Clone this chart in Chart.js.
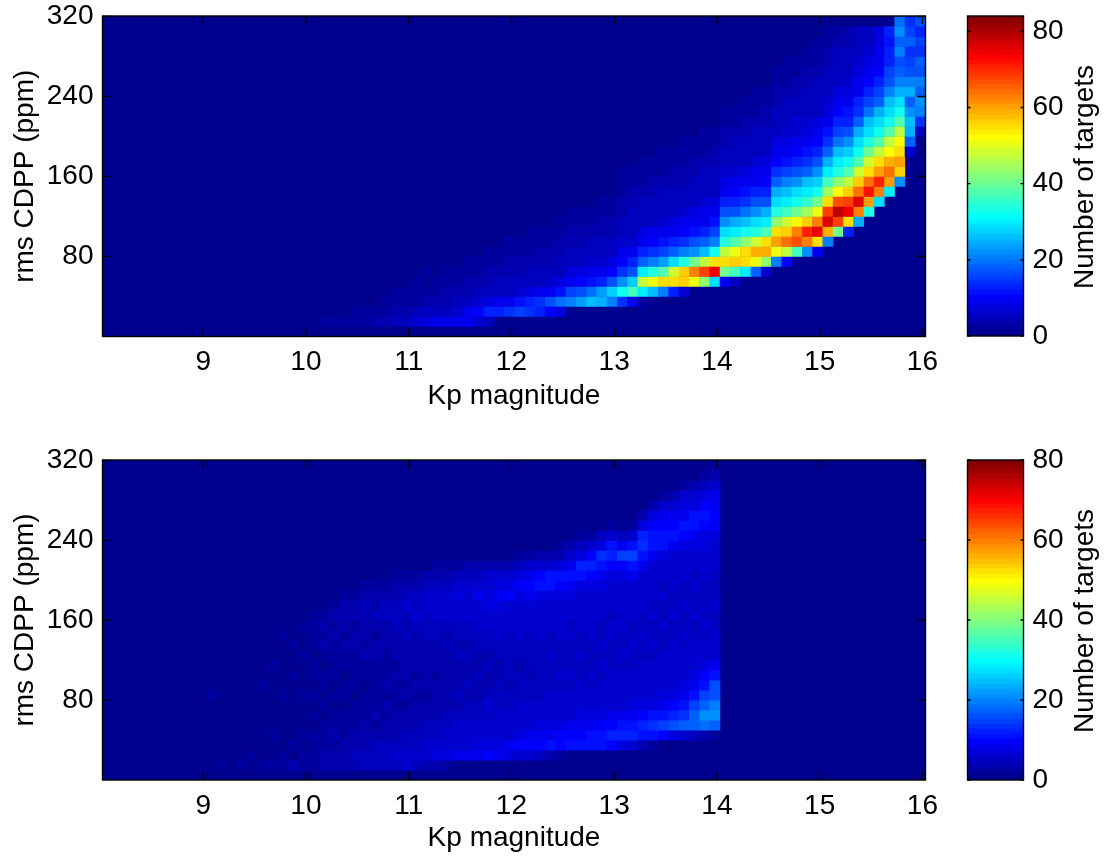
<!DOCTYPE html>
<html>
<head>
<meta charset="utf-8">
<script src="https://cdn.jsdelivr.net/npm/chart.js@4"></script>
<style>
  html, body { margin: 0; padding: 0; background: #fff; }
  canvas { position: absolute; display: block; }
</style>
</head>
<body>
<canvas id="topHeat" width="960" height="420" style="left:0;top:0;width:960px;height:420px"></canvas>
<canvas id="topBar" width="168" height="420" style="left:940px;top:0;width:168px;height:420px"></canvas>
<canvas id="bottomHeat" width="960" height="418" style="left:0;top:440px;width:960px;height:418px"></canvas>
<canvas id="bottomBar" width="168" height="418" style="left:940px;top:440px;width:168px;height:418px"></canvas>
<script>
// Kp ticks / ppm ticks / colorbar ticks
var kpTicks = [9, 10, 11, 12, 13, 14, 15, 16];
var ppmTicks = [80, 160, 240, 320];
var countTicks = [0, 20, 40, 60, 80];
var kpBinStart = 8.03;
var kpBinWidth = 0.1;
var ppmBinWidth = 10;
var topMaxCount = 84;
var bottomMaxCount = 80;

// one entry per Kp bin: first ppm bin, then the counts going up.
var topCols = [
  [],[],[],[],[],[],[],[],[],[],
  [1,1,0,1,0,0,1],[1,0,1,0,1,0,0,1],[1,1,0,1,1,0,1],[1,1,1,0,1,1],[1,1,0,1,1,0,1],
  [1,1,1,1,0,1,1],[1,1,1,0,1,1,0,1],[1,1,1,1,1,0,1],[1,1,1,1,0,1,1,0,1],[1,1,1,1,1,1,0,1],
  [1,1,1,1,1,1,1,0,1],[1,2,1,1,1,1,0,1,1],[1,2,1,1,1,1,1,0,1],[1,2,1,1,1,1,1,1,0,1],[1,2,2,1,1,1,1,0,1,1],
  [1,2,2,1,1,1,1,1,1,0,1],[1,3,2,1,1,1,1,1,0,1],[1,3,2,2,1,1,1,1,1,0,1],[1,4,3,2,2,1,1,1,1,1,0,1],[1,5,3,2,2,1,1,1,1,0,1],
  [1,6,4,2,2,2,1,1,1,1,1,0,1],[1,7,4,3,2,1,2,1,1,1,0,1,1],[1,8,5,3,2,2,1,1,1,1,1,1,0,1],[1,8,5,3,3,2,2,1,1,1,1,0,1,1],[1,9,6,4,3,2,2,1,1,1,1,1,1,0,1],
  [1,8,8,5,3,3,2,2,1,1,1,1,1,1,0,1],[1,6,10,6,4,3,2,2,1,1,1,1,1,0,1,1],[1,4,12,7,4,3,3,2,2,1,1,1,1,1,1,0,1],[2,13,8,5,4,3,2,2,1,1,1,1,1,0,1,1],[2,14,9,5,4,3,3,2,2,1,1,1,1,1,1,0,1],
  [2,15,11,6,4,3,3,2,2,1,1,1,1,1,0,1],[2,14,12,7,5,4,3,2,2,2,1,1,1,1,1,1,0,1],[2,13,14,8,5,4,3,3,2,2,1,1,1,1,1,0,1,1],[2,10,16,9,6,4,3,3,2,2,1,1,1,1,1,1,1,0,1],[2,7,19,11,7,5,4,3,3,2,2,1,1,1,1,1,0,1,1],
  [3,20,15,9,7,5,4,3,3,2,2,1,1,1,1,1,1,0,1,1],[3,23,17,10,7,5,4,3,3,2,2,1,1,1,1,1,1,0,1],[3,25,19,11,8,6,4,4,3,2,2,1,1,1,1,1,1,1,0,1],[3,24,23,13,9,6,5,4,3,3,2,2,1,1,1,1,1,0,1,1],[3,20,27,16,10,7,5,4,3,3,2,2,1,1,1,1,1,1,0,1],
  [3,14,32,22,14,10,8,6,5,4,3,3,2,2,2,1,1,1,1,1,0,1],[3,8,36,27,16,12,8,6,5,5,4,3,3,2,2,1,1,1,1,1,0,1],[3,2,30,46,30,18,13,9,7,5,5,4,3,2,2,2,1,1,1,1,1,0,1],[4,26,50,34,20,14,10,8,5,5,4,3,3,2,2,1,1,1,1,1,1,0,1],[4,20,54,38,23,15,11,8,6,5,4,4,3,2,2,2,1,1,1,1,1,1],
  [4,12,54,48,28,18,12,9,7,5,5,4,3,3,2,2,1,1,1,1,1,1,0,1],[4,6,56,56,33,20,14,10,8,6,5,4,3,3,2,2,2,1,1,1,1,1,1],[5,50,62,40,22,16,11,8,7,5,5,4,3,3,2,2,1,1,1,1,1,1],[5,42,68,46,26,18,13,9,8,6,5,4,4,3,2,2,2,1,1,1,1,1],[5,28,74,54,32,20,15,11,8,7,5,5,4,3,3,2,2,1,1,1,1,1],
  [5,8,40,54,46,34,28,22,16,12,9,7,6,5,4,3,3,2,2,1,1,1,1,1],[5,4,36,56,50,38,30,24,17,13,10,8,6,5,4,4,3,2,2,1,1,1,1,1,1],[6,30,54,54,42,32,26,19,14,11,8,7,5,5,4,3,3,2,2,1,1,1,1,1],[6,18,50,58,48,34,28,21,16,12,9,8,6,5,4,4,3,2,2,2,1,1,1,1],[6,6,42,58,54,38,30,24,17,13,10,8,7,5,5,4,3,3,2,2,1,1,1,1],
  [7,20,50,60,54,42,33,28,24,18,14,10,8,7,5,5,4,3,3,2,2,1,1,1],[7,10,46,64,56,48,36,30,26,20,15,11,9,7,6,5,4,4,3,2,2,2,1,1],[8,36,66,62,52,40,32,28,22,16,12,10,8,6,6,5,4,3,3,2,2,1,1,1],[8,22,62,70,56,44,35,30,25,18,14,11,9,7,6,5,5,4,3,3,2,2,1,1],[8,8,54,74,62,50,40,32,27,21,16,12,10,8,7,5,5,4,4,3,2,2,2,1],
  [9,20,58,76,68,54,44,36,30,24,18,14,11,9,7,6,5,5,4,3,3,2,2],[10,40,68,78,66,52,42,34,30,26,19,15,12,10,8,7,5,5,4,4,3,2],[10,12,54,74,68,56,46,38,32,27,22,16,13,11,9,7,6,5,5,4,3,3],[11,24,62,76,64,56,48,38,32,28,24,18,14,12,9,8,7,6,5,4,4],[12,34,60,72,64,54,48,40,33,28,25,19,15,12,10,8,7,6,5,5],
  [13,28,62,70,60,54,46,38,32,28,24,18,15,12,10,9,8,7,7],[14,30,60,64,58,52,46,38,32,28,26,20,17,15,13,12,11,12],[15,22,56,60,54,52,46,38,32,28,24,20,18,17,20,18,22,19],[18,6,18,24,26,22,18,24,20,16,15,14,18,15,14],[20,4,14,20,22,18,20,16,18,14,15,12,16]
];

var bottomCols = [
  [],[],[],[],[],[],[],[],[],[2,1,0,0,1,0,0,1],
  [1,1,0,1,0,1,0,0,2],[1,2,1,0,0,1,0,1],[1,1,0,1,1,0,1,0,1,0,0,1],[1,2,1,0,1,0,1,1,0,1],[1,1,2,1,0,1,0,1,1,0,1,0,1],
  [1,2,1,1,1,0,1,1,0,2,1,0,1,1],[1,2,1,1,2,1,0,1,1,1,0,2,1,0,1,1],[1,2,2,1,1,0,1,1,2,1,1,0,1,1,2],[1,3,1,2,1,1,1,0,1,1,2,1,1,2,0,1,1],[1,2,2,1,2,1,1,1,2,0,1,1,2,1,1,2,1],
  [1,2,2,2,2,1,2,1,2,1,2,2,1,2,2,2,2,1],[1,3,3,2,2,2,1,2,1,2,2,1,2,3,2,3,2,1],[1,3,3,2,3,2,2,1,2,1,2,2,2,2,3,2,3,2,1,0,1],[1,3,3,3,2,2,2,1,2,2,1,2,2,3,2,3,3,3,2],[1,3,4,3,3,2,2,2,1,2,2,2,2,3,3,2,3,3,2,1],
  [1,4,4,3,3,3,2,2,2,1,2,2,3,2,3,3,3,4,3,2],[1,4,4,4,3,2,3,2,2,2,2,2,3,3,2,3,4,3,3,2],[1,4,4,4,3,3,2,3,2,3,2,2,2,3,3,3,4,4,3,2,1],[1,4,5,4,3,3,3,2,2,2,3,2,3,3,3,4,4,4,3,3,2],[1,5,5,4,4,3,3,2,3,2,3,3,3,3,4,3,4,5,4,3,2],
  [1,4,6,4,4,3,3,3,2,3,2,3,3,3,3,4,5,4,4,3,2],[1,3,6,5,4,4,3,3,2,3,3,3,3,3,4,4,4,5,5,4,3,1],[1,3,7,5,4,4,3,3,3,3,2,3,3,3,4,4,5,6,5,4,3,2],[1,2,7,5,5,4,4,3,3,3,3,3,3,4,3,4,5,5,6,4,3,2],[2,8,6,5,5,4,3,4,3,3,3,4,3,4,4,5,5,7,5,4,2,1],
  [2,8,6,6,5,4,4,3,4,3,3,4,3,4,4,5,6,6,6,4,3,1],[2,8,7,5,5,4,4,3,3,4,3,3,4,4,5,5,6,8,6,4,3,1],[2,9,7,6,5,4,5,4,3,3,4,3,4,4,5,6,7,7,6,5,3,1],[2,8,7,6,6,5,4,4,4,3,3,4,4,5,5,6,7,8,7,5,3,1],[2,7,8,6,5,5,4,4,3,4,4,4,4,4,5,6,6,9,7,5,3,1],
  [2,6,9,7,6,5,5,4,4,4,3,4,4,5,5,5,6,7,9,7,4,2,1],[2,5,9,8,6,5,5,4,4,3,4,4,4,4,5,5,6,8,9,8,5,2,1],[2,4,9,8,7,6,5,4,4,4,4,4,4,5,5,6,6,7,10,9,5,3,1],[2,3,10,8,7,6,5,5,4,4,4,5,4,4,5,5,6,7,10,11,6,3,1],[2,2,9,9,7,6,5,5,4,5,4,4,4,5,5,5,6,7,9,11,7,3,2,1],
  [3,10,9,8,6,6,5,4,5,4,4,4,5,4,5,6,7,8,11,8,5,3,1],[3,11,9,8,7,5,5,5,4,4,5,4,4,5,5,5,6,7,10,12,7,4,2,1],[3,11,10,8,7,6,5,4,5,4,4,4,5,5,5,5,6,7,9,12,9,5,2,1],[3,10,11,9,7,6,5,5,4,5,4,5,4,4,5,5,6,7,8,11,13,7,4,1],[3,9,12,9,8,6,6,5,5,4,4,4,5,5,4,5,6,6,7,9,12,10,5,2,1],
  [3,7,12,10,8,6,6,5,5,4,5,4,4,5,5,5,5,6,7,9,14,8,4,1],[3,5,12,11,8,7,6,5,5,4,4,5,4,4,5,5,6,6,8,10,14,11,5,2,1],[3,3,11,12,9,7,6,5,5,5,4,4,5,4,4,5,5,6,6,8,10,13,12,7,3,1],[3,2,10,13,10,7,6,6,5,5,4,5,4,4,5,4,5,5,5,6,8,11,10,9,7,3,1],[4,9,14,10,8,7,6,5,5,5,4,4,5,4,4,5,4,5,6,7,10,11,9,8,5,2,1],
  [4,7,15,12,9,7,6,5,5,5,5,4,4,5,4,4,5,5,6,6,8,11,9,8,6,3,1],[4,5,17,13,10,8,7,6,5,5,4,5,4,4,5,4,4,5,5,6,7,9,11,8,7,5,2,1],[4,4,17,17,14,10,8,7,6,5,5,4,4,5,4,4,5,4,5,6,7,8,10,11,7,6,3,1],[4,3,18,20,17,14,11,9,7,5,5,4,5,4,4,4,4,5,5,5,7,7,9,10,9,7,4,2,1],[4,2,17,21,19,16,15,11,8,6,5,5,4,4,5,4,4,4,5,5,6,7,8,9,8,8,6,3,2]
];

var fontName = '"Liberation Sans", Arial, sans-serif';
var labelSize = 28;
var sideLabel = 'Number of targets';

function jetColor(i) {
  var c = function (a) { return Math.round(255 * Math.max(0, Math.min(1, a))); };
  return 'rgb(' + c(Math.min((i - 23) / 16, (71 - i) / 16)) + ',' +
    c(Math.min((i - 7) / 16, (55 - i) / 16)) + ',' +
    c(Math.min((i + 9) / 16, (39 - i) / 16)) + ')';
}

function countColor(v, maxCount) {
  return jetColor(Math.min(63, Math.floor(v / maxCount * 64)));
}

function cellsFrom(cols) {
  var cells = [];
  cols.forEach(function (col, k) {
    col.slice(1).forEach(function (v, j) {
      if (v > 0) {
        cells.push({
          x: kpBinStart + kpBinWidth * (k + 0.5),
          y: (col[0] + j + 0.5) * ppmBinWidth,
          v: v
        });
      }
    });
  });
  return cells;
}

// labels may hang over the plot, keep the box where it is
function noOverhang(s) {
  s.paddingLeft = 0;
  s.paddingRight = 0;
  s.paddingTop = 0;
  s.paddingBottom = 0;
}

// matlab style box with ticks pointing in
var boxPlugin = {
  id: 'box',
  beforeDatasetsDraw: function (chart, args, opts) {
    var a = chart.chartArea, c = chart.ctx;
    if (opts.fill) {
      c.fillStyle = opts.fill;
      c.fillRect(a.left, a.top, a.width, a.height);
    }
  },
  afterDraw: function (chart, args, opts) {
    var a = chart.chartArea, c = chart.ctx;
    c.save();
    c.strokeStyle = '#000';
    c.lineWidth = 1.4;
    c.strokeRect(a.left, a.top, a.width, a.height);
    c.beginPath();
    if (chart.scales.x.options.display) {
      chart.scales.x.ticks.forEach(function (t) {
        var px = chart.scales.x.getPixelForValue(t.value);
        c.moveTo(px, a.bottom); c.lineTo(px, a.bottom - opts.tickLen);
        c.moveTo(px, a.top); c.lineTo(px, a.top + opts.tickLen);
      });
    }
    chart.scales.y.ticks.forEach(function (t) {
      var py = chart.scales.y.getPixelForValue(t.value);
      c.moveTo(a.left, py); c.lineTo(a.left + opts.tickLen, py);
      c.moveTo(a.right, py); c.lineTo(a.right - opts.tickLen, py);
    });
    c.stroke();
    // the library turns a right hand axis title the other way, so it goes here
    if (opts.sideTitle) {
      c.translate(opts.sideX, (a.top + a.bottom) / 2 + 1);
      c.rotate(-Math.PI / 2);
      c.fillStyle = '#000';
      c.font = labelSize + 'px ' + fontName;
      c.textAlign = 'center';
      c.textBaseline = 'middle';
      c.fillText(opts.sideTitle, 0, 0);
    }
    c.restore();
  }
};

function heatChart(id, cols, maxCount, plotTop, axisHeight, titleGap) {
  return new Chart(document.getElementById(id), {
    type: 'scatter',
    plugins: [boxPlugin],
    data: {
      datasets: [{
        data: cellsFrom(cols),
        pointStyle: 'rect',
        pointRadius: 7.6,
        pointBorderWidth: 0,
        pointBackgroundColor: function (ctx) { return countColor(ctx.raw.v, maxCount); }
      }]
    },
    options: {
      responsive: false,
      animation: false,
      events: [],
      layout: { autoPadding: false, padding: { top: plotTop, right: 34.5, left: 0, bottom: 0 } },
      plugins: {
        legend: { display: false },
        tooltip: { enabled: false },
        box: { tickLen: 8, fill: jetColor(0) }
      },
      scales: {
        x: {
          type: 'linear',
          min: 8.02,
          max: 16.03,
          grid: { display: false, drawTicks: false },
          border: { display: false },
          afterBuildTicks: function (s) { s.ticks = kpTicks.map(function (v) { return { value: v }; }); },
          afterFit: function (s) { s.height = axisHeight; noOverhang(s); },
          ticks: {
            color: '#000',
            padding: 9,
            maxRotation: 0,
            autoSkip: false,
            font: { family: fontName, size: labelSize }
          },
          title: {
            display: true,
            text: 'Kp magnitude',
            color: '#000',
            padding: { top: 0, bottom: titleGap },
            font: { family: fontName, size: labelSize }
          }
        },
        y: {
          type: 'linear',
          min: 0,
          max: 320.5,
          grid: { display: false, drawTicks: false },
          border: { display: false },
          afterBuildTicks: function (s) { s.ticks = ppmTicks.map(function (v) { return { value: v }; }); },
          afterFit: function (s) { s.width = 102.5; noOverhang(s); },
          ticks: {
            color: '#000',
            padding: 9,
            autoSkip: false,
            font: { family: fontName, size: labelSize }
          },
          title: {
            display: true,
            text: 'rms CDPP (ppm)',
            color: '#000',
            padding: { top: 8, bottom: 0 },
            font: { family: fontName, size: labelSize }
          }
        }
      }
    }
  });
}

function barChart(id, maxCount, plotTop, plotBottomGap) {
  var sets = [];
  for (var i = 0; i < 64; i++) {
    sets.push({
      data: [[i / 64 * maxCount, Math.min(maxCount, (i + 1) / 64 * maxCount + 0.3)]],
      backgroundColor: jetColor(i),
      borderWidth: 0,
      grouped: false,
      barPercentage: 1,
      categoryPercentage: 1
    });
  }
  return new Chart(document.getElementById(id), {
    type: 'bar',
    plugins: [boxPlugin],
    data: { labels: [sideLabel], datasets: sets },
    options: {
      responsive: false,
      animation: false,
      events: [],
      layout: { autoPadding: false, padding: { top: plotTop, left: 27.5, right: 0, bottom: plotBottomGap } },
      plugins: {
        legend: { display: false },
        tooltip: { enabled: false },
        box: { tickLen: 3, sideTitle: sideLabel, sideX: 145 }
      },
      scales: {
        x: { display: false },
        y: {
          position: 'right',
          min: 0,
          max: maxCount,
          grid: { display: false, drawTicks: false },
          border: { display: false },
          afterBuildTicks: function (s) { s.ticks = countTicks.map(function (v) { return { value: v }; }); },
          afterFit: function (s) { s.width = 84.5; noOverhang(s); },
          ticks: {
            color: '#000',
            padding: 9,
            autoSkip: false,
            font: { family: fontName, size: labelSize }
          }
        }
      }
    }
  });
}

heatChart('topHeat', topCols, topMaxCount, 16, 83.5, 7);
barChart('topBar', topMaxCount, 16, 84);
heatChart('bottomHeat', bottomCols, bottomMaxCount, 20, 78, 3);
barChart('bottomBar', bottomMaxCount, 20, 78);
</script>
</body>
</html>
